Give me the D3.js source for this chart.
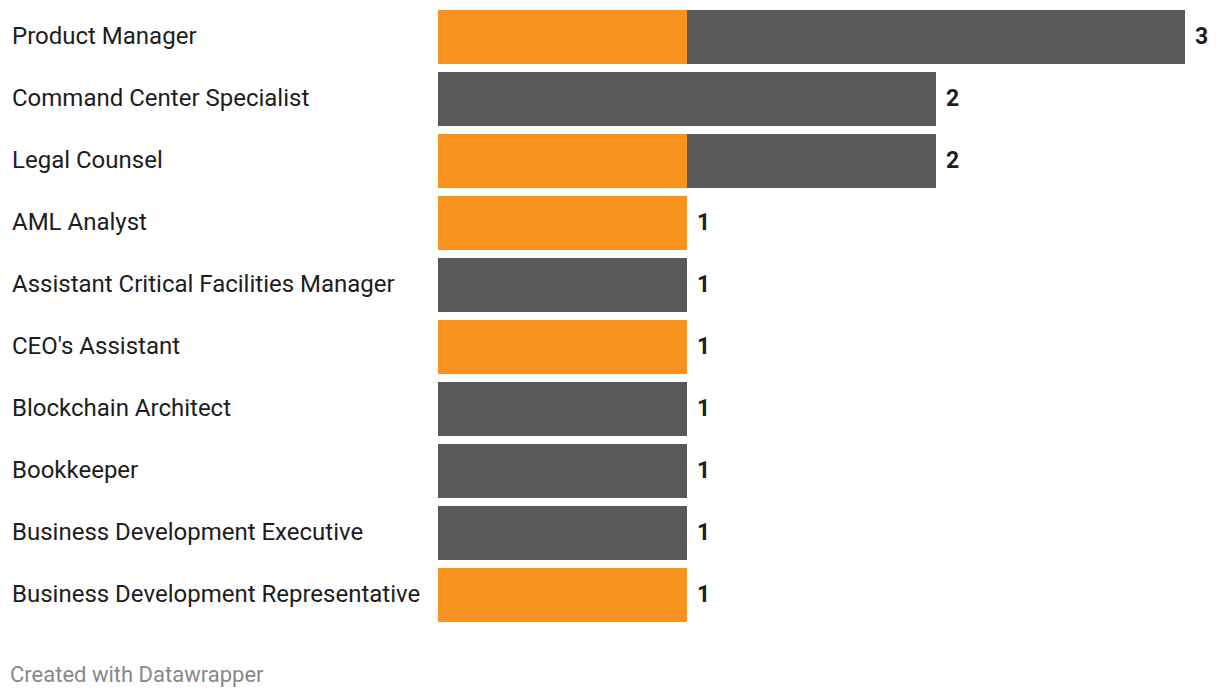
<!DOCTYPE html>
<html><head><meta charset="utf-8">
<script src="https://cdn.jsdelivr.net/npm/d3@7"></script>
<style>
body{margin:0;background:#fff;}
svg{display:block;font-family:Roboto,sans-serif;}
</style></head><body>
<svg id="chart" width="1220" height="698"></svg>
<script>
const categories = ["Product Manager","Command Center Specialist","Legal Counsel","AML Analyst","Assistant Critical Facilities Manager","CEO's Assistant","Blockchain Architect","Bookkeeper","Business Development Executive","Business Development Representative"];
const orangeValues = [1,0,1,1,0,1,0,0,0,1];
const grayValues   = [2,2,1,0,1,0,1,1,1,0];
const seriesNames = ["orange","gray"];
const seriesColors = ["#f7931e","#595959"];

const svg = d3.select("#chart");
const x = d3.scaleLinear().domain([0,3]).range([438,1184.5]);
const y = d3.scaleBand().domain(categories).range([10,622]).paddingInner(8/62).paddingOuter(0).align(0);
const bh = y.bandwidth();

const rows = categories.map((c,i)=>({cat:c, orange:orangeValues[i], gray:grayValues[i]}));
const stack = d3.stack().keys(seriesNames)(rows);

svg.append("g").selectAll("g").data(stack).join("g")
  .attr("fill",(d,i)=>seriesColors[i])
  .selectAll("rect").data(d=>d).join("rect")
  .attr("x",d=>Math.round(x(d[0])))
  .attr("y",d=>Math.round(y(d.data.cat)))
  .attr("width",d=>Math.round(x(d[1]))-Math.round(x(d[0])))
  .attr("height",Math.round(bh));

svg.append("g").selectAll("text").data(rows).join("text")
  .attr("x",12).attr("y",d=>Math.round(y(d.cat))+bh/2+7)
  .attr("font-size",24).attr("fill","#1d1d1d")
  .text(d=>d.cat);

svg.append("g").selectAll("text").data(rows).join("text")
  .attr("x",d=>Math.round(x(d.orange+d.gray))+10).attr("y",d=>Math.round(y(d.cat))+bh/2+7)
  .attr("font-size",23).attr("font-weight","bold").attr("fill","#1d1d1d")
  .text(d=>d.orange+d.gray);

svg.append("text").attr("x",10).attr("y",682)
  .attr("font-size",22).attr("fill","#888")
  .text("Created with Datawrapper");
</script></body></html>
